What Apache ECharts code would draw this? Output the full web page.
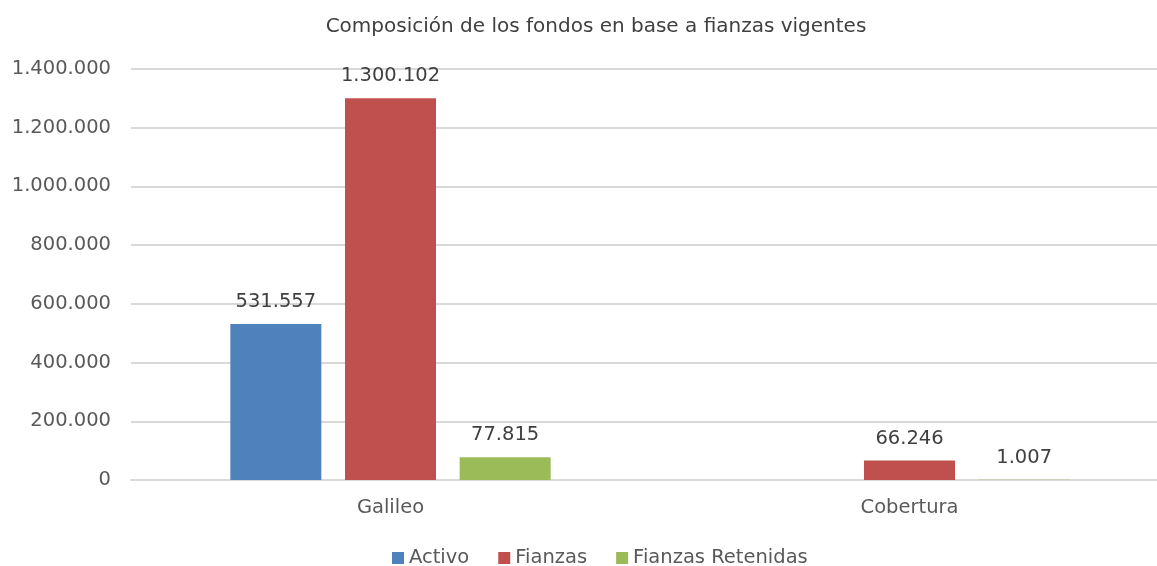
<!DOCTYPE html>
<html>
<head>
<meta charset="utf-8">
<script src="https://cdn.jsdelivr.net/npm/echarts@6/dist/echarts.min.js"></script>
<style>html,body{margin:0;padding:0;background:#fff;overflow:hidden}#c{width:1169px;height:566px}</style>
</head>
<body>
<div id="c"></div>
<script>
const categories = ['Galileo', 'Cobertura'];
const activo = [531557, null];
const fianzas = [1300102, 66246];
const fianzasRetenidas = [77815, 1007];
const seriesNames = ['Activo', 'Fianzas', 'Fianzas Retenidas'];
const titleText = 'Composición de los fondos en base a fianzas vigentes';

function fmt(v) {
  return String(Math.round(v)).replace(/\B(?=(\d{3})+(?!\d))/g, '.');
}
const FONT = 'DejaVu Sans';
const FS = 19.5;
const colors = ['#4F81BD', '#C0504D', '#9BBB59'];
const dataSets = [activo, fianzas, fianzasRetenidas];

const chart = echarts.init(document.getElementById('c'), null, {renderer: 'canvas'});
chart.setOption({
  animation: false,
  title: {
    text: titleText, left: 591, textAlign: 'center', top: 12,
    textStyle: {fontFamily: FONT, fontSize: 20, fontWeight: 'normal', color: '#404040'}
  },
  legend: {
    bottom: -2, left: 392, padding: 0, itemWidth: 12, itemHeight: 12, itemGap: 29,
    icon: 'rect',
    textStyle: {fontFamily: FONT, fontSize: FS, color: '#595959'},
    data: seriesNames
  },
  grid: {left: 131, top: 69, right: 0, height: 411, containLabel: false},
  xAxis: {
    type: 'category', data: categories,
    axisLine: {lineStyle: {color: '#d9d9d9', width: 2}},
    axisTick: {show: false},
    axisLabel: {fontFamily: FONT, fontSize: FS, color: '#595959', margin: 18}
  },
  yAxis: {
    type: 'value', min: 0, max: 1400000, interval: 200000,
    axisLine: {show: false}, axisTick: {show: false},
    splitLine: {lineStyle: {color: '#d9d9d9', width: 2}},
    axisLabel: {fontFamily: FONT, fontSize: FS, color: '#595959', margin: 20, formatter: fmt}
  },
  series: seriesNames.map((n, i) => ({
    name: n, type: 'bar', data: dataSets[i], barWidth: 91, barGap: '26%',
    itemStyle: {color: colors[i]},
    label: {
      show: true, position: 'top', distance: 12,
      fontFamily: FONT, fontSize: FS, color: '#404040',
      formatter: p => p.value == null ? '' : fmt(p.value)
    }
  }))
});
</script>
</body>
</html>
